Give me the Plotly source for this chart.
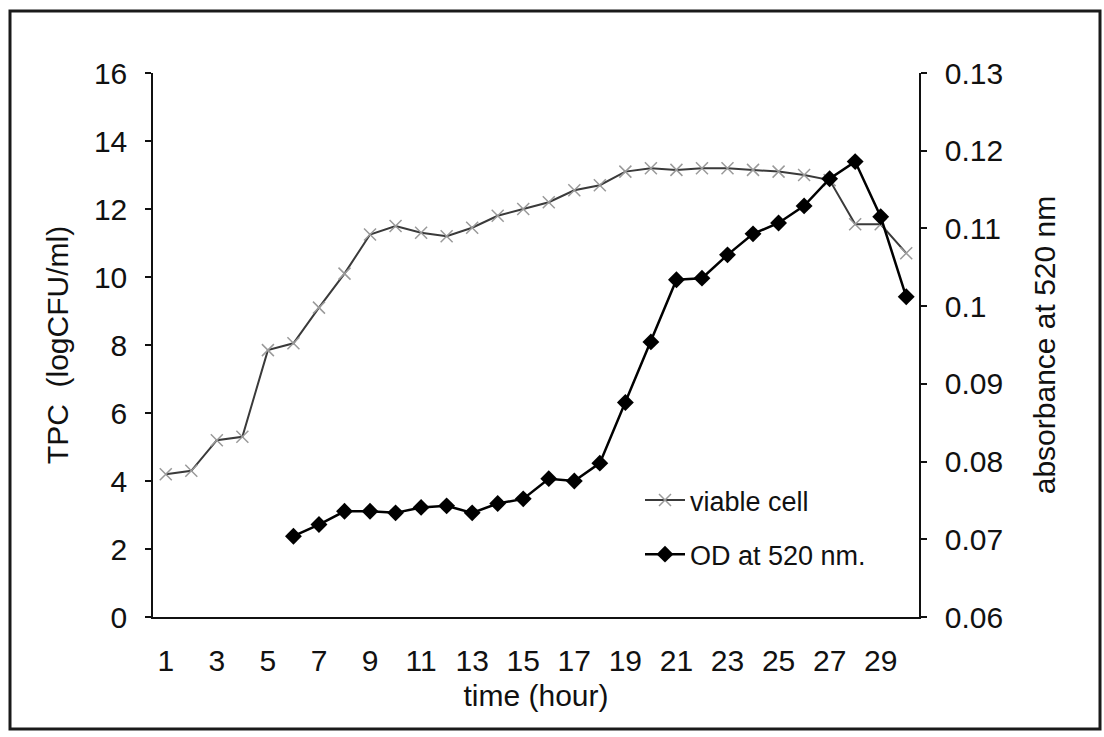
import plotly.graph_objects as go

hours = list(range(1, 31))
viable_cell = [4.2, 4.3, 5.2, 5.3, 7.85, 8.05, 9.1, 10.1, 11.25, 11.5,
               11.3, 11.2, 11.45, 11.8, 12.0, 12.2, 12.55, 12.7, 13.1, 13.2,
               13.15, 13.2, 13.2, 13.15, 13.1, 13.0, 12.85, 11.55, 11.55, 10.7]
od_hours = list(range(6, 31))
od_520 = [0.0704, 0.0719, 0.0736, 0.0736, 0.0734, 0.0741, 0.0743, 0.0734, 0.0746, 0.0752,
          0.0778, 0.0775, 0.0798, 0.0876, 0.0954, 0.1034, 0.1036, 0.1066, 0.1093, 0.1107,
          0.1129, 0.1164, 0.1186, 0.1115, 0.1012]
x_tick_labels = [str(h) for h in hours if h % 2 == 1]
left_ticks = [0, 2, 4, 6, 8, 10, 12, 14, 16]
right_ticks = [0.06, 0.07, 0.08, 0.09, 0.10, 0.11, 0.12, 0.13]
right_tick_labels = ["0.06", "0.07", "0.08", "0.09", "0.1", "0.11", "0.12", "0.13"]

FONT = "Liberation Sans, Arial, sans-serif"
INK = "#111111"

fig = go.Figure()
fig.add_trace(go.Scatter(
    x=hours, y=viable_cell, name="viable cell", mode="lines+markers",
    line=dict(color="#3a3a3a", width=2),
    marker=dict(symbol="x-thin", size=12, line=dict(color="#9a9a9a", width=1.5)),
    legendgroup="a", xaxis="x", yaxis="y"))
fig.add_trace(go.Scatter(
    x=od_hours, y=od_520, name="OD at 520 nm.", mode="lines+markers",
    line=dict(color="#000000", width=2.5),
    marker=dict(symbol="diamond", size=13, color="#000000"),
    legendgroup="b", xaxis="x", yaxis="y2"))

xr = [0.5, 30.5]
bounds = [h - 0.5 for h in hours] + [30.5]
common_line = dict(showline=True, linecolor=INK, linewidth=1.5, showgrid=False, zeroline=False)

fig.update_layout(
    width=1104, height=737,
    margin=dict(l=153, r=185, t=73, b=120),
    paper_bgcolor="white", plot_bgcolor="white",
    font=dict(family=FONT, size=30, color=INK),
    showlegend=True,
    legend=dict(x=(640 - 153) / 766, y=(617 - 476) / 544, xanchor="left", yanchor="top",
                bgcolor="rgba(0,0,0,0)", font=dict(size=27), tracegroupgap=16,
                itemwidth=40),
    xaxis=dict(range=xr, tickmode="array", tickvals=[h for h in hours if h % 2 == 1],
               ticktext=x_tick_labels, ticks="", ticklabelstandoff=16,
               title=dict(text="time (hour)", standoff=9, font=dict(size=30)), **common_line),
    xaxis2=dict(range=xr, overlaying="x", anchor="y", side="bottom", tickmode="array",
                tickvals=bounds, ticks="outside", ticklen=7, tickwidth=1.5, tickcolor=INK,
                showticklabels=False, showline=False, showgrid=False, zeroline=False),
    xaxis3=dict(range=xr, overlaying="x", anchor="y", side="bottom", tickmode="array",
                tickvals=bounds, ticks="inside", ticklen=7, tickwidth=1.5, tickcolor=INK,
                showticklabels=False, showline=False, showgrid=False, zeroline=False),
    yaxis=dict(range=[0, 16], tickmode="array", tickvals=left_ticks, ticks="outside",
               ticklen=6, tickwidth=1.5, tickcolor=INK, ticklabelstandoff=12,
               title=dict(text="TPC  (logCFU/ml)", standoff=16, font=dict(size=30)),
               **common_line),
    yaxis3=dict(range=[0, 16], overlaying="y", anchor="x", side="left", tickmode="array",
                tickvals=left_ticks, ticks="inside", ticklen=6, tickwidth=1.5, tickcolor=INK,
                showticklabels=False, showline=False, showgrid=False, zeroline=False),
    yaxis2=dict(range=[0.06, 0.13], overlaying="y", anchor="x", side="right",
                tickmode="array", tickvals=right_ticks, ticktext=right_tick_labels,
                ticks="outside", ticklen=6, tickwidth=1.5, tickcolor=INK, ticklabelstandoff=12,
                title=dict(text="absorbance at 520 nm", standoff=32, font=dict(size=30)),
                **common_line),
    yaxis4=dict(range=[0.06, 0.13], overlaying="y", anchor="x", side="right",
                tickmode="array", tickvals=right_ticks, ticks="inside", ticklen=6,
                tickwidth=1.5, tickcolor=INK, showticklabels=False, showline=False,
                showgrid=False, zeroline=False),
    shapes=[dict(type="rect", xref="paper", yref="paper",
                 x0=(10 - 153) / 766, x1=(1100 - 153) / 766,
                 y0=(617 - 729) / 544, y1=(617 - 11) / 544,
                 line=dict(color="#1a1a1a", width=3), layer="below")],
)

fig.write_html("out.html")
